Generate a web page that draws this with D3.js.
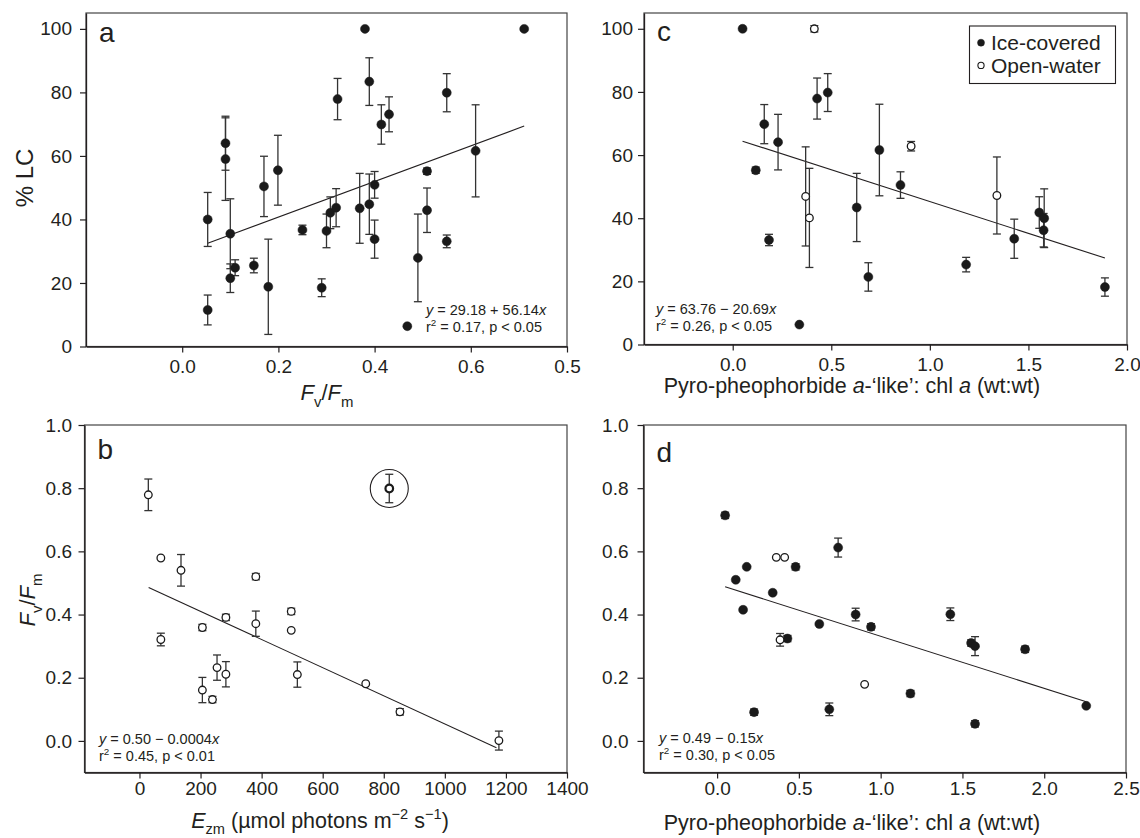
<!DOCTYPE html>
<html>
<head>
<meta charset="utf-8">
<script src="https://cdn.jsdelivr.net/npm/d3@7"></script>
<style>
  body { margin: 0; background: #fff; }
  svg { display: block; font-family: "Liberation Sans", Arial, Helvetica, sans-serif; }
  text { fill: #231f20; }
</style>
</head>
<body>
<svg id="chart" width="1140" height="838"></svg>
<script>
// panel a : %LC vs Fv/Fm (all ice-covered)
const aX = [0.053, 0.053, 0.090, 0.090, 0.100, 0.100, 0.110, 0.149, 0.170, 0.199, 0.179, 0.250, 0.290, 0.300, 0.308, 0.320, 0.323, 0.369, 0.380, 0.389, 0.389, 0.400, 0.400, 0.414, 0.430, 0.490, 0.509, 0.509, 0.550, 0.550, 0.610, 0.711, 0.468];
const aY = [11.5, 40, 64, 59, 35.5, 21.5, 24.8, 25.5, 50.4, 55.5, 18.8, 36.7, 18.5, 36.4, 42.1, 43.7, 77.9, 43.5, 100, 83.4, 44.8, 50.9, 33.8, 69.9, 73.1, 27.9, 55.2, 42.9, 79.9, 33.1, 61.6, 100, 6.4];
const aErr = [4.7, 8.5, 8.5, 13, 11, 4.5, 2.5, 2.3, 9.5, 11, 15, 1.5, 2.8, 5.3, 5, 6, 6.5, 11, 0, 7.5, 9.5, 4.2, 6, 6.2, 5.5, 13.8, 1, 7, 6, 2, 14.5, 0, 0];
const aFitX = [0.053, 0.711];
const aFitY = [32.5, 69.4];

// panel c : %LC vs pyro-pheophorbide ratio
const cX = [0.05, 0.414, 0.16, 0.117, 0.23, 0.184, 0.428, 0.482, 0.37, 0.389, 0.629, 0.338, 0.688, 0.744, 0.905, 0.851, 1.184, 1.34, 1.428, 1.555, 1.58, 1.577, 1.888];
const cY = [100, 100, 69.8, 55.2, 64.1, 33.1, 77.9, 79.8, 46.9, 40.1, 43.4, 6.3, 21.4, 61.6, 62.8, 50.5, 25.3, 47.2, 33.5, 41.8, 40, 36.2, 18.2];
const cErr = [0, 1, 6.2, 1, 8.8, 1.8, 6.5, 6, 15.7, 15.7, 10.8, 0, 4.5, 14.5, 1.5, 4.2, 2.3, 12.2, 6.2, 5, 9.3, 5.3, 2.9];
const cOpen = [0, 1, 0, 0, 0, 0, 0, 0, 1, 1, 0, 0, 0, 0, 1, 0, 0, 1, 0, 0, 0, 0, 0];
const cFitX = [0.05, 1.888];
const cFitY = [64.4, 27.4];

// panel b : Fv/Fm vs Ezm (all open-water)
const bX = [29, 70, 70, 136, 206, 206, 239, 254, 283, 283, 381, 381, 497, 497, 517, 741, 853, 1177, 818];
const bY = [0.779, 0.579, 0.321, 0.54, 0.359, 0.161, 0.131, 0.232, 0.391, 0.211, 0.52, 0.371, 0.41, 0.35, 0.21, 0.181, 0.092, 0.001, 0.799];
const bErr = [0.05, 0, 0.02, 0.05, 0.01, 0.04, 0.01, 0.04, 0.01, 0.04, 0.01, 0.04, 0.01, 0, 0.04, 0, 0.01, 0.03, 0.045];
const bCircled = [0, 0, 0, 0, 0, 0, 0, 0, 0, 0, 0, 0, 0, 0, 0, 0, 0, 0, 1];
const bFitX = [30, 1169];
const bFitY = [0.486, -0.022];

// panel d : Fv/Fm vs pyro-pheophorbide ratio
const dX = [0.049, 0.114, 0.159, 0.181, 0.226, 0.34, 0.43, 0.48, 0.625, 0.686, 0.74, 0.847, 0.941, 1.182, 1.426, 1.553, 1.577, 1.577, 1.883, 2.257, 0.362, 0.413, 0.385, 0.902];
const dY = [0.714, 0.51, 0.415, 0.551, 0.091, 0.469, 0.324, 0.551, 0.37, 0.1, 0.612, 0.4, 0.361, 0.15, 0.401, 0.31, 0.3, 0.054, 0.29, 0.111, 0.581, 0.581, 0.32, 0.179];
const dErr = [0.01, 0, 0, 0, 0.01, 0, 0.01, 0.01, 0, 0.02, 0.03, 0.02, 0.01, 0.01, 0.02, 0.01, 0.03, 0.01, 0.01, 0, 0, 0, 0.02, 0];
const dOpen = [0, 0, 0, 0, 0, 0, 0, 0, 0, 0, 0, 0, 0, 0, 0, 0, 0, 0, 0, 0, 1, 1, 1, 1];
const dFitX = [0.049, 2.257];
const dFitY = [0.488, 0.124];

// ticks
const pctTicks = [0, 20, 40, 60, 80, 100];
const fvTicks = [0, 0.2, 0.4, 0.6, 0.8, 1.0];
const aTicks = [0, 0.2, 0.4, 0.6, 0.8];
const aTickLabels = ["0.0", "0.2", "0.4", "0.6", "0.5"];
const cTicks = [0, 0.5, 1, 1.5, 2];
const bTicks = [0, 200, 400, 600, 800, 1000, 1200, 1400];
const dTicks = [0, 0.5, 1, 1.5, 2, 2.5];

const legendLabels = ["Ice-covered", "Open-water"];

const svg = d3.select("#chart");
const INK = "#231f20";

// rich text helper (italic / sub / sup pieces)
function rich(parent, x, y, size, parts, anchor) {
  const t = parent.append("text")
    .attr("x", x).attr("y", y)
    .attr("text-anchor", anchor || "start")
    .style("font-size", size + "px");
  let shift = 0;
  parts.forEach(p => {
    const s = t.append("tspan").text(p.t);
    const target = p.sub ? size * 0.3 : p.sup ? -size * 0.4 : 0;
    s.attr("dy", target - shift);
    shift = target;
    if (p.sub || p.sup) s.style("font-size", (size * 0.68) + "px");
    if (p.it) s.style("font-style", "italic");
  });
  return t;
}

function panel(o) {
  const g = svg.append("g");
  const x = d3.scaleLinear().domain(o.xDomain).range([o.left, o.right]);
  const y = d3.scaleLinear().domain(o.yDomain).range([o.bottom, o.top]);

  // frame
  g.append("rect")
    .attr("x", o.left).attr("y", o.top)
    .attr("width", o.right - o.left).attr("height", o.bottom - o.top)
    .attr("fill", "none").attr("stroke", "#444").attr("stroke-width", 1.2);

  const xAxis = d3.axisBottom(x).tickValues(o.xTicks)
    .tickFormat((d, i) => o.xLabels ? o.xLabels[i] : o.xFmt(d))
    .tickSize(6).tickSizeOuter(0).tickPadding(o.xPad);
  const yAxis = d3.axisLeft(y).tickValues(o.yTicks)
    .tickFormat(o.yFmt).tickSize(6).tickSizeOuter(0).tickPadding(o.yPad);

  const gx = g.append("g").attr("transform", `translate(0,${o.bottom})`).call(xAxis);
  const gy = g.append("g").attr("transform", `translate(${o.left},0)`).call(yAxis);
  [gx, gy].forEach(a => {
    a.attr("font-family", null).attr("font-size", null);
    a.select(".domain").attr("stroke", INK).attr("stroke-width", 1.3);
    a.selectAll(".tick line").attr("stroke", INK).attr("stroke-width", 1.2);
    a.selectAll(".tick text").style("font-size", "19px").attr("fill", INK);
  });

  // regression line
  const line = d3.line().x(d => x(d[0])).y(d => y(d[1]));
  g.append("path")
    .datum(o.fitX.map((v, i) => [v, o.fitY[i]]))
    .attr("d", line).attr("fill", "none").attr("stroke", INK).attr("stroke-width", 1.1);

  const pts = o.xs.map((v, i) => ({ x: v, y: o.ys[i], e: o.errs[i], open: o.open ? o.open[i] : 0, ring: o.ring ? o.ring[i] : 0 }));

  // error bars
  const eb = g.append("g").attr("stroke", "#333").attr("stroke-width", 1.3);
  pts.filter(p => p.e > 0).forEach(p => {
    const cx = x(p.x), y1 = y(p.y + p.e), y2 = y(p.y - p.e);
    eb.append("line").attr("x1", cx).attr("x2", cx).attr("y1", y1).attr("y2", y2);
    eb.append("line").attr("x1", cx - 4).attr("x2", cx + 4).attr("y1", y1).attr("y2", y1);
    eb.append("line").attr("x1", cx - 4).attr("x2", cx + 4).attr("y1", y2).attr("y2", y2);
  });

  // points
  g.selectAll(".dot").data(pts).enter().append("circle")
    .attr("cx", d => x(d.x)).attr("cy", d => y(d.y))
    .attr("r", d => d.open ? 3.8 : 4.5)
    .attr("fill", d => d.open ? "#fff" : "#1a1a1a")
    .attr("stroke", "#1a1a1a")
    .attr("stroke-width", d => d.ring ? 2.2 : (d.open ? 1.3 : 0.5));

  pts.filter(p => p.ring).forEach(p => {
    g.append("circle").attr("cx", x(p.x)).attr("cy", y(p.y)).attr("r", 19)
      .attr("fill", "none").attr("stroke", INK).attr("stroke-width", 1.1);
  });

  // panel letter
  g.append("text").attr("x", o.left + 13).attr("y", o.letterY)
    .style("font-size", "28px").text(o.letter);

  // equation
  rich(g, o.eqX, o.eqY, 14.5, o.eq1);
  rich(g, o.eqX, o.eqY + 17, 14.5, o.eq2);

  return { g, x, y };
}

const fmt1 = d3.format(".1f");
const fmt0 = d3.format("d");

const pa = panel({
  left: 86, right: 567, top: 13, bottom: 346.5,
  xDomain: [-0.2, 0.8], yDomain: [0, 105],
  xTicks: aTicks, xLabels: aTickLabels, xPad: 7,
  yTicks: pctTicks, yFmt: fmt0, yPad: 8,
  xs: aX, ys: aY, errs: aErr, fitX: aFitX, fitY: aFitY,
  letter: "a", letterY: 41.5,
  eqX: 426, eqY: 315,
  eq1: [{ t: "y", it: 1 }, { t: " = 29.18 + 56.14" }, { t: "x", it: 1 }],
  eq2: [{ t: "r" }, { t: "2", sup: 1 }, { t: " = 0.17, p < 0.05" }]
});

const pc = panel({
  left: 644, right: 1127, top: 13, bottom: 344.5,
  xDomain: [-0.45, 2.0], yDomain: [0, 105],
  xTicks: cTicks, xFmt: fmt1, xPad: 7,
  yTicks: pctTicks, yFmt: fmt0, yPad: 5,
  xs: cX, ys: cY, errs: cErr, open: cOpen, fitX: cFitX, fitY: cFitY,
  letter: "c", letterY: 40.5,
  eqX: 656, eqY: 313.5,
  eq1: [{ t: "y", it: 1 }, { t: " = 63.76 \u2212 20.69" }, { t: "x", it: 1 }],
  eq2: [{ t: "r" }, { t: "2", sup: 1 }, { t: " = 0.26, p < 0.05" }]
});

const pb = panel({
  left: 84.5, right: 567, top: 425, bottom: 772.5,
  xDomain: [-180, 1400], yDomain: [-0.1, 1.0],
  xTicks: bTicks, xFmt: fmt0, xPad: 3,
  yTicks: fvTicks, yFmt: fmt1, yPad: 6.5,
  xs: bX, ys: bY, errs: bErr, open: bX.map(() => 1), ring: bCircled, fitX: bFitX, fitY: bFitY,
  letter: "b", letterY: 459,
  eqX: 99, eqY: 744,
  eq1: [{ t: "y", it: 1 }, { t: " = 0.50 \u2212 0.0004" }, { t: "x", it: 1 }],
  eq2: [{ t: "r" }, { t: "2", sup: 1 }, { t: " = 0.45, p < 0.01" }]
});

const pd = panel({
  left: 643.5, right: 1126, top: 425, bottom: 772.5,
  xDomain: [-0.45, 2.5], yDomain: [-0.1, 1.0],
  xTicks: dTicks, xFmt: fmt1, xPad: 3,
  yTicks: fvTicks, yFmt: fmt1, yPad: 9,
  xs: dX, ys: dY, errs: dErr, open: dOpen, fitX: dFitX, fitY: dFitY,
  letter: "d", letterY: 461.5,
  eqX: 659, eqY: 742.5,
  eq1: [{ t: "y", it: 1 }, { t: " = 0.49 \u2212 0.15" }, { t: "x", it: 1 }],
  eq2: [{ t: "r" }, { t: "2", sup: 1 }, { t: " = 0.30, p < 0.05" }]
});

// axis titles
const pyro = [{ t: "Pyro-pheophorbide " }, { t: "a", it: 1 }, { t: "-\u2018like\u2019: chl " }, { t: "a", it: 1 }, { t: " (wt:wt)" }];
const fvfm = [{ t: "F", it: 1 }, { t: "v", sub: 1 }, { t: "/" }, { t: "F", it: 1 }, { t: "m", sub: 1 }];

rich(svg, 327, 400, 22, fvfm, "middle");
rich(svg, 852, 393, 21.5, pyro, "middle");
rich(svg, 852, 829.5, 21.5, pyro, "middle");
rich(svg, 320, 827.5, 21.5, [{ t: "E", it: 1 }, { t: "zm", sub: 1 }, { t: " (\u00b5mol photons m" }, { t: "\u22122", sup: 1 }, { t: " s" }, { t: "\u22121", sup: 1 }, { t: ")" }], "middle");

const ya = svg.append("g").attr("transform", "translate(33,178) rotate(-90)");
rich(ya, 0, 0, 24, [{ t: "% LC" }], "middle");
const yb = svg.append("g").attr("transform", "translate(35,600) rotate(-90)");
rich(yb, 0, 0, 22, fvfm, "middle");

// legend in panel c
const lg = svg.append("g");
lg.append("rect").attr("x", 969.5).attr("y", 26).attr("width", 146).attr("height", 57.5)
  .attr("fill", "#fff").attr("stroke", INK).attr("stroke-width", 1.1);
legendLabels.forEach((lab, i) => {
  const cy = 42.7 + i * 22.7;
  lg.append("circle").attr("cx", 981).attr("cy", cy).attr("r", i ? 3.1 : 3.5)
    .attr("fill", i ? "#fff" : "#1a1a1a").attr("stroke", "#1a1a1a").attr("stroke-width", i ? 1.1 : 0.5);
  lg.append("text").attr("x", 991).attr("y", cy + 7.3).style("font-size", "21px").text(lab);
});
</script>
</body>
</html>
